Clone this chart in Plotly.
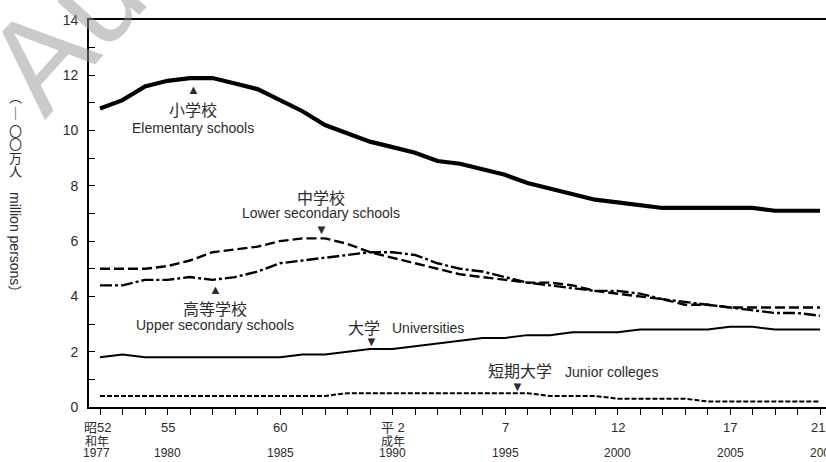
import plotly.graph_objects as go

years = list(range(1977, 2010))

elementary = [10.8, 11.1, 11.6, 11.8, 11.9, 11.9, 11.7, 11.5, 11.1, 10.7, 10.2, 9.9, 9.6,
              9.4, 9.2, 8.9, 8.8, 8.6, 8.4, 8.1, 7.9, 7.7, 7.5, 7.4, 7.3, 7.2, 7.2, 7.2,
              7.2, 7.2, 7.1, 7.1, 7.1]
lower_secondary = [5.0, 5.0, 5.0, 5.1, 5.3, 5.6, 5.7, 5.8, 6.0, 6.1, 6.1, 5.9, 5.6,
                   5.4, 5.2, 5.0, 4.8, 4.7, 4.6, 4.5, 4.5, 4.4, 4.2, 4.1, 4.0, 3.9, 3.7,
                   3.7, 3.6, 3.6, 3.6, 3.6, 3.6]
upper_secondary = [4.4, 4.4, 4.6, 4.6, 4.7, 4.6, 4.7, 4.9, 5.2, 5.3, 5.4, 5.5, 5.6,
                   5.6, 5.5, 5.2, 5.0, 4.9, 4.7, 4.5, 4.4, 4.3, 4.2, 4.2, 4.1, 3.9, 3.8,
                   3.7, 3.6, 3.5, 3.4, 3.4, 3.3]
universities = [1.8, 1.9, 1.8, 1.8, 1.8, 1.8, 1.8, 1.8, 1.8, 1.9, 1.9, 2.0, 2.1,
                2.1, 2.2, 2.3, 2.4, 2.5, 2.5, 2.6, 2.6, 2.7, 2.7, 2.7, 2.8, 2.8, 2.8,
                2.8, 2.9, 2.9, 2.8, 2.8, 2.8]
junior_colleges = [0.4, 0.4, 0.4, 0.4, 0.4, 0.4, 0.4, 0.4, 0.4, 0.4, 0.4, 0.5, 0.5,
                   0.5, 0.5, 0.5, 0.5, 0.5, 0.5, 0.5, 0.4, 0.4, 0.4, 0.3, 0.3, 0.3, 0.3,
                   0.2, 0.2, 0.2, 0.2, 0.2, 0.2]

era_tick_years = [1977, 1980, 1985, 1990, 1995, 2000, 2005, 2009]
era_top_labels = ["昭52", "55", "60", "平 2", "7", "12", "17", "21"]
era_bottom_labels = ["和年", "", "", "成年", "", "", "", ""]
year_tick_labels = ["1977", "1980", "1985", "1990", "1995", "2000", "2005", "2009"]

y_ticks = [0, 2, 4, 6, 8, 10, 12, 14]

FONT = "Liberation Sans, Arial, Noto Sans CJK JP, sans-serif"
CJK = "Noto Sans CJK JP, sans-serif"
TXT = "#2b2b2b"

fig = go.Figure()

series = [
    (elementary, 4.2, "solid"),
    (lower_secondary, 2.4, "10px,4px"),
    (upper_secondary, 2.4, "12px,3px,3px,3px"),
    (universities, 2.0, "solid"),
    (junior_colleges, 2.0, "5px,2px"),
]
for vals, w, dash in series:
    fig.add_trace(go.Scatter(x=years, y=vals, mode="lines",
                             line=dict(color="black", width=w, dash=dash),
                             showlegend=False, hoverinfo="skip"))

# body margin is removed by the post script, so figure coords = screen coords
W, H = 826, 462
L, T = 89, 20
BOT = 407
B = H - BOT
PW, PH = W - L, H - T - B
x0 = 1977 - 11 / 22.5
x1 = x0 + PW / 22.5


def px(x):
    return (x - L) / PW


def py(y):
    return (BOT - y) / PH


ann = []

# watermark (drawn first so texts lie over it)
ann.append(dict(x=px(64), y=py(30), xref="paper", yref="paper", text="Au",
                showarrow=False, textangle=-48, xanchor="center", yanchor="middle",
                font=dict(family=FONT, size=132, color="rgba(150,150,150,0.5)")))

# era / year tick labels
first_last_shift = {1977: -3, 2009: -2}
year_shift = {1977: -4, 2009: 3}
for yr, top, bot in zip(era_tick_years, era_top_labels, era_bottom_labels):
    ann.append(dict(x=yr, y=py(427), xref="x", yref="paper", text=top, showarrow=False,
                    xanchor="center", yanchor="middle", xshift=first_last_shift.get(yr, 0),
                    font=dict(family=FONT, size=13, color=TXT)))
    if bot:
        ann.append(dict(x=yr, y=py(440), xref="x", yref="paper", text=bot, showarrow=False,
                        xanchor="center", yanchor="middle",
                        xshift=first_last_shift.get(yr, 0),
                        font=dict(family=CJK, size=12, color=TXT)))
for yr, lab in zip(era_tick_years, year_tick_labels):
    ann.append(dict(x=yr, y=py(453), xref="x", yref="paper", text=lab, showarrow=False,
                    xanchor="center", yanchor="middle", xshift=year_shift.get(yr, 0),
                    font=dict(family=FONT, size=12, color=TXT)))


def lab(x, y, text, size=14, family=FONT, anchor="center", angle=0):
    ann.append(dict(x=px(x), y=py(y), xref="paper", yref="paper", text=text,
                    showarrow=False, xanchor=anchor, yanchor="middle", textangle=angle,
                    font=dict(family=family, size=size, color=TXT)))


lab(193, 90, "▲", 13)
lab(193, 109, "小学校", 16, CJK)
lab(193, 128, "Elementary schools", 14)

lab(321, 197, "中学校", 16, CJK)
lab(321, 213, "Lower secondary schools", 14)
lab(321, 229, "▼", 13)

lab(215, 289, "▲", 13)
lab(215, 308, "高等学校", 16, CJK)
lab(215, 325, "Upper secondary schools", 14)

lab(364, 327, "大学", 16, CJK)
lab(390, 328, "Universities", 14, FONT, "left")
lab(371, 341, "▼", 13)

lab(520, 370, "短期大学", 16, CJK)
lab(563, 372, "Junior colleges", 14, FONT, "left")
lab(517, 386, "▼", 13)

# y-axis title (vertical writing)
for ch, yy in [("︵", 97), ("｜", 112), ("〇", 130), ("〇", 143), ("万", 157), ("人", 170)]:
    lab(15, yy, ch, 13, CJK)
lab(15, 245, "million persons）", 14, FONT, "center", 90)

fig.update_layout(
    width=W, height=H,
    margin=dict(l=L, r=0, t=T, b=B, autoexpand=False),
    paper_bgcolor="white", plot_bgcolor="white",
    annotations=ann,
    xaxis=dict(range=[x0, x1], showgrid=False, zeroline=False,
               showline=True, linecolor="black", linewidth=1.6, mirror=True,
               tickvals=years, ticks="outside", ticklen=6, tickwidth=1.2,
               tickcolor="black", showticklabels=False),
    yaxis=dict(range=[0, 14], showgrid=False, zeroline=False,
               showline=True, linecolor="black", linewidth=1.6,
               tickvals=y_ticks, ticks="inside", ticklen=6, tickwidth=1.2,
               tickcolor="black", ticklabelstandoff=6,
               tickfont=dict(family=FONT, size=14, color=TXT),
               minor=dict(dtick=1, tick0=0, ticks="inside", ticklen=6,
                          tickwidth=1.2, tickcolor="black")),
)

fig.write_html(
    "out.html",
    config={"displayModeBar": False},
    post_script="document.body.style.margin='0';document.body.style.overflow='hidden';"
                "document.documentElement.style.overflow='hidden';",
)
